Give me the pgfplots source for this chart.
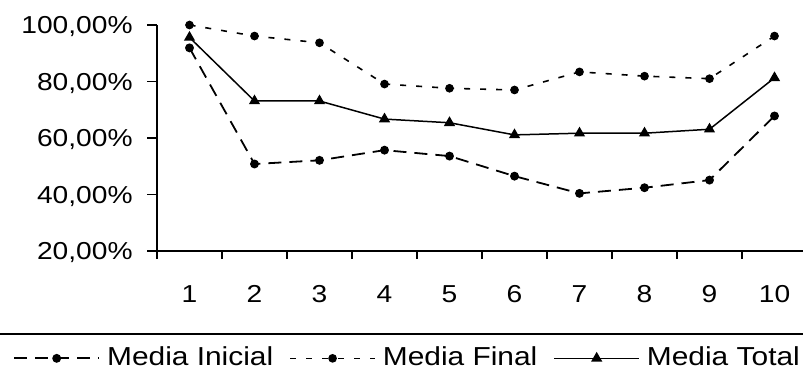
\documentclass[border=0pt]{standalone}
\usepackage{fontspec}
\setmainfont[FakeStretch=1.15]{Liberation Sans}
\usepackage{pgfplots}
\pgfplotsset{compat=1.18}
\begin{document}
\fontsize{24.5}{28}\selectfont
\begin{tikzpicture}
\useasboundingbox (0pt,0pt) rectangle (803pt,378pt);
\clip (0pt,0pt) rectangle (803pt,378pt);
\begin{axis}[
  at={(157pt,127pt)}, anchor=south west,
  scale only axis, width=650pt, height=226pt,
  xmin=0.5, xmax=10.5, ymin=20, ymax=100,
  axis x line=bottom, axis y line=left,
  axis line style={-, line width=1.2pt},
  tick style={line width=1.2pt, black},
  tick align=outside,
  xtick={1,...,10},
  xticklabels={1,2,3,4,5,6,7,8,9,10},
  major x tick style={draw=none},
  minor xtick={0.5,1.5,...,9.5},
  minor tick length=8pt,
  major tick length=10pt,
  ytick={20,40,60,80,100},
  yticklabels={{20,00\%},{40,00\%},{60,00\%},{80,00\%},{100,00\%}},
  yticklabel style={anchor=east, xshift=-6pt, yshift=-2pt},
  xticklabel style={anchor=north, yshift=-16pt},
  clip=false,
  legend columns=3,
  legend style={draw=none, fill=none, at={(axis description cs:-0.226,-0.475)}, anchor=west,
    /tikz/every odd column/.append style={column sep=5pt},
    /tikz/every even column/.append style={column sep=14pt},
    font=\fontsize{26}{30}\selectfont},
  legend image code/.code={\draw[mark repeat=2,mark phase=2,#1] plot coordinates {(0pt,0pt) (42.5pt,0pt) (85pt,0pt)};},
]
\addplot[black, line width=1.8pt, dash pattern=on 13pt off 8pt, mark=*, mark size=3.5pt, mark options={solid}]
  coordinates {(1,91.9) (2,50.8) (3,52.1) (4,55.7) (5,53.6) (6,46.5) (7,40.4) (8,42.4) (9,45.1) (10,67.8)};
\addlegendentry{Media Inicial}
\addplot[black, line width=1.6pt, dash pattern=on 6pt off 10pt, mark=*, mark size=3.5pt, mark options={solid}]
  coordinates {(1,100) (2,96.1) (3,93.7) (4,79.1) (5,77.6) (6,77.0) (7,83.4) (8,81.9) (9,81.0) (10,96.1)};
\addlegendentry{Media Final}
\addplot[black, line width=1.5pt, solid, mark=triangle*, mark size=5pt]
  coordinates {(1,95.6) (2,73.1) (3,73.1) (4,66.7) (5,65.4) (6,61.1) (7,61.7) (8,61.7) (9,63.1) (10,81.3)};
\addlegendentry{Media Total}
\end{axis}
\draw[line width=1.2pt] (0pt,44pt) -- (803pt,44pt);
\end{tikzpicture}
\end{document}
